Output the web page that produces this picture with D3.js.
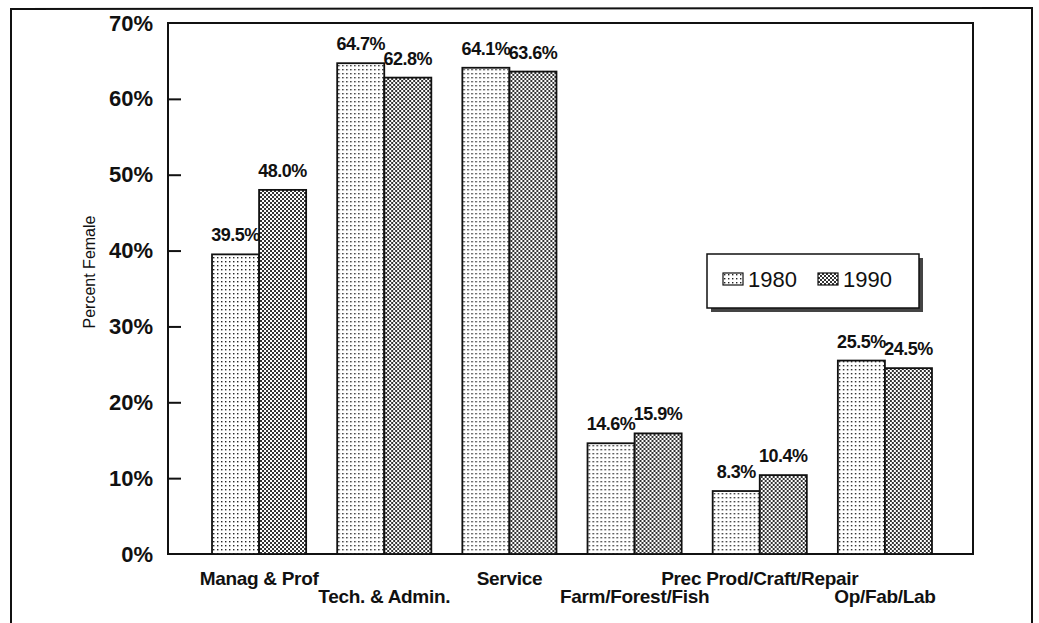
<!DOCTYPE html>
<html>
<head>
<meta charset="utf-8">
<script src="https://cdn.jsdelivr.net/npm/d3@7"></script>
<style>
  body { margin: 0; background: #fff; }
  svg { display: block; font-family: "Liberation Sans", Arial, sans-serif; }
</style>
</head>
<body>
<svg id="chart" width="1039" height="623"></svg>
<script>
// data
var categories = ["Manag & Prof", "Tech. & Admin.", "Service", "Farm/Forest/Fish", "Prec Prod/Craft/Repair", "Op/Fab/Lab"];
var years = ["1980", "1990"];
var values1980 = [39.5, 64.7, 64.1, 14.6, 8.3, 25.5];
var values1990 = [48.0, 62.8, 63.6, 15.9, 10.4, 24.5];
var yTicks = [0, 10, 20, 30, 40, 50, 60, 70];

var svg = d3.select("#chart");
var plot = { left: 168, top: 23, right: 973, bottom: 554 };

// patterns that mimic the dot fills of the scan
var defs = svg.append("defs");
var p80 = defs.append("pattern").attr("id", "p1980")
    .attr("width", 4).attr("height", 4).attr("patternUnits", "userSpaceOnUse");
p80.append("rect").attr("width", 4).attr("height", 4).attr("fill", "#fff");
p80.append("rect").attr("x", 1).attr("y", 1).attr("width", 1.4).attr("height", 1.4).attr("fill", "#222");

var p90 = defs.append("pattern").attr("id", "p1990")
    .attr("width", 4).attr("height", 4).attr("patternUnits", "userSpaceOnUse");
p90.append("rect").attr("width", 4).attr("height", 4).attr("fill", "#fff");
p90.append("rect").attr("x", 0).attr("y", 0).attr("width", 2).attr("height", 2).attr("fill", "#333");
p90.append("rect").attr("x", 2).attr("y", 2).attr("width", 2).attr("height", 2).attr("fill", "#333");

var fills = { "1980": "url(#p1980)", "1990": "url(#p1990)" };

// outer frame (runs off the bottom of the page like the scan)
svg.append("path")
    .attr("d", "M11,630 L11,9 L1032,8 L1032,630")
    .attr("fill", "none").attr("stroke", "#111").attr("stroke-width", 2);

var x = d3.scaleBand().domain(categories).range([196.5, 947.5])
    .paddingInner(0.248).paddingOuter(0.124);
var x1 = d3.scaleBand().domain(years).range([0, x.bandwidth()]);
var y = d3.scaleLinear().domain([0, 70]).range([plot.bottom, plot.top]);

// plot frame
svg.append("rect")
    .attr("x", plot.left).attr("y", plot.top)
    .attr("width", plot.right - plot.left).attr("height", plot.bottom - plot.top)
    .attr("fill", "none").attr("stroke", "#111").attr("stroke-width", 2);

// y axis with inward ticks
var yAxis = svg.append("g")
    .attr("transform", "translate(" + plot.left + ",0)")
    .call(d3.axisLeft(y).tickValues(yTicks).tickFormat(function (d) { return d + "%"; })
        .tickSizeInner(-13).tickSizeOuter(0).tickPadding(15));
yAxis.select(".domain").remove();
yAxis.selectAll(".tick line").attr("stroke", "#111").attr("stroke-width", 2)
    .filter(function (d) { return d === 0 || d === 70; }).remove();
yAxis.selectAll(".tick text")
    .attr("font-family", "Liberation Sans, Arial, sans-serif")
    .attr("font-size", 22).attr("font-weight", "bold").attr("fill", "#111");

svg.append("text")
    .attr("transform", "translate(95,272) rotate(-90)")
    .attr("text-anchor", "middle")
    .attr("font-size", 16).attr("fill", "#111")
    .text("Percent Female");

// bars
var rows = categories.map(function (c, i) {
    return { cat: c, vals: [
        { year: "1980", v: values1980[i] },
        { year: "1990", v: values1990[i] }
    ] };
});

var groups = svg.selectAll(".grp").data(rows).enter().append("g")
    .attr("class", "grp")
    .attr("transform", function (d) { return "translate(" + x(d.cat) + ",0)"; });

groups.selectAll("rect").data(function (d) { return d.vals; }).enter().append("rect")
    .attr("x", function (d) { return x1(d.year); })
    .attr("y", function (d) { return y(d.v); })
    .attr("width", x1.bandwidth())
    .attr("height", function (d) { return y(0) - y(d.v); })
    .attr("fill", function (d) { return fills[d.year]; })
    .attr("stroke", "#111").attr("stroke-width", 1.8);

groups.selectAll(".val").data(function (d) { return d.vals; }).enter().append("text")
    .attr("class", "val")
    .attr("x", function (d) { return x1(d.year) + x1.bandwidth() / 2; })
    .attr("y", function (d) { return y(d.v) - 13; })
    .attr("text-anchor", "middle")
    .attr("font-size", 18).attr("font-weight", "bold").attr("letter-spacing", -0.5)
    .attr("fill", "#111")
    .text(function (d) { return d.v.toFixed(1) + "%"; });

// category labels, staggered on two rows
svg.selectAll(".cat").data(categories).enter().append("text")
    .attr("class", "cat")
    .attr("x", function (d) { return x(d) + x.bandwidth() / 2; })
    .attr("y", function (d, i) { return i % 2 === 0 ? 585 : 603; })
    .attr("text-anchor", "middle")
    .attr("font-size", 19).attr("font-weight", "bold").attr("letter-spacing", -0.3)
    .attr("fill", "#111")
    .text(function (d) { return d; });

// legend with drop shadow
var lg = svg.append("g").attr("transform", "translate(707,254)");
lg.append("rect").attr("x", 4).attr("y", 4).attr("width", 212).attr("height", 54).attr("fill", "#444");
lg.append("rect").attr("width", 212).attr("height", 54)
    .attr("fill", "#fff").attr("stroke", "#111").attr("stroke-width", 1.5);
var items = lg.selectAll(".li").data(years).enter().append("g")
    .attr("transform", function (d, i) { return "translate(" + (16 + i * 95) + ",19)"; });
items.append("rect").attr("width", 20).attr("height", 12)
    .attr("fill", function (d) { return fills[d]; })
    .attr("stroke", "#111").attr("stroke-width", 1.2);
items.append("text").attr("x", 25).attr("y", 14)
    .attr("font-size", 22).attr("fill", "#111")
    .text(function (d) { return d; });
</script>
</body>
</html>
